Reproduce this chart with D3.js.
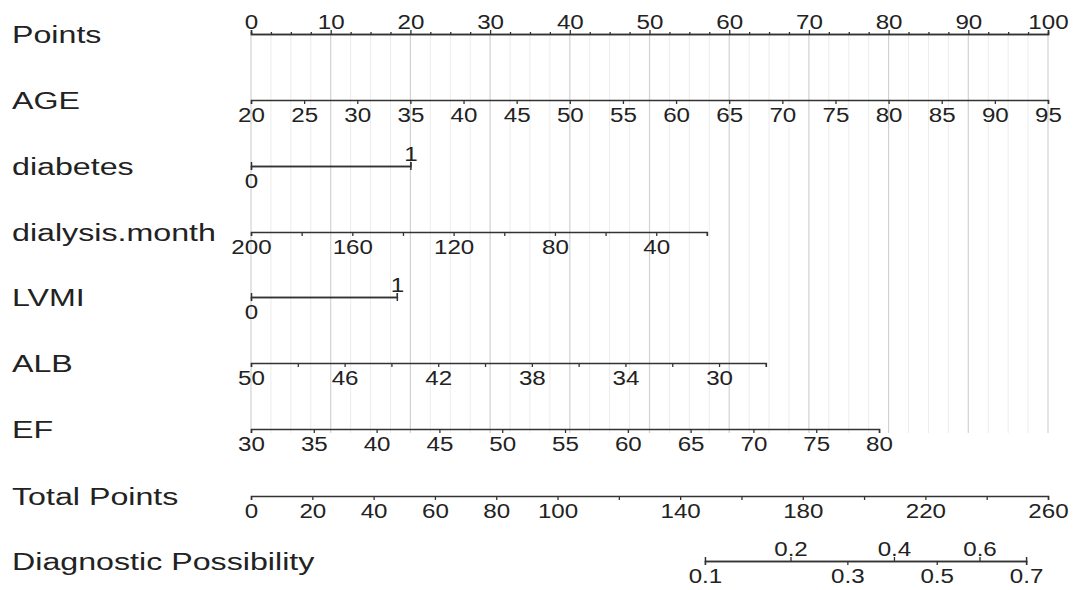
<!DOCTYPE html>
<html>
<head>
<meta charset="utf-8">
<script src="https://cdn.jsdelivr.net/npm/d3@7"></script>
<style>
  body { margin: 0; background: #fff; }
  svg { display: block; }
  text { font-family: "Liberation Sans", Arial, sans-serif; fill: #222; }
</style>
</head>
<body>
<svg id="chart" width="1076" height="590"></svg>
<script>
// row names as shown on the left
var rowNames = ["Points", "AGE", "diabetes", "dialysis.month", "LVMI", "ALB", "EF", "Total Points", "Diagnostic Possibility"];

// points axis
var pointsTicks = [0, 10, 20, 30, 40, 50, 60, 70, 80, 90, 100];
var pointsMinor = [2.5, 5, 7.5, 12.5, 15, 17.5, 22.5, 25, 27.5, 32.5, 35, 37.5, 42.5, 45, 47.5,
  52.5, 55, 57.5, 62.5, 65, 67.5, 72.5, 75, 77.5, 82.5, 85, 87.5, 92.5, 95, 97.5];

// predictors: value range and the points at each end
var ageRange = [20, 95], agePoints = [0, 100];
var ageTicks = [20, 25, 30, 35, 40, 45, 50, 55, 60, 65, 70, 75, 80, 85, 90, 95];

var diabetesLevels = [0, 1], diabetesPoints = [0, 20];

var dialysisRange = [200, 20], dialysisPoints = [0, 57.2];
var dialysisTicks = [200, 180, 160, 140, 120, 100, 80, 60, 40, 20];
var dialysisLabels = [200, 160, 120, 80, 40];

var lvmiLevels = [0, 1], lvmiPoints = [0, 18.3];

var albRange = [50, 28], albPoints = [0, 64.6];
var albTicks = [50, 48, 46, 44, 42, 40, 38, 36, 34, 32, 30, 28];
var albLabels = [50, 46, 42, 38, 34, 30];

var efRange = [30, 80], efPoints = [0, 78.8];
var efTicks = [30, 35, 40, 45, 50, 55, 60, 65, 70, 75, 80];

// total points
var totalRange = [0, 260];
var totalTicks = [0, 20, 40, 60, 80, 100, 120, 140, 160, 180, 200, 220, 240, 260];
var totalLabels = [0, 20, 40, 60, 80, 100, 140, 180, 220, 260];

// diagnostic possibility (logistic link)
var probTicksTop = [0.2, 0.4, 0.6];
var probTicksBottom = [0.1, 0.3, 0.5, 0.7];
var lpIntercept = 223.7;   // total points where probability = 0.5
var lpSlope = 0.02906;     // logit per total point

var svg = d3.select("#chart");
var rowY = [34, 100, 166, 232, 297, 363, 429, 496, 561];

var x = d3.scaleLinear().domain([0, 100]).range([251, 1048]);
var xTotal = d3.scaleLinear().domain(totalRange).range([251, 1048]);

function predictorScale(range, pts) {
  return d3.scaleLinear().domain(range).range([x(pts[0]), x(pts[1])]);
}

var tickFont = 21, tickStretch = 1.15;
var lineColor = "#333";

// grid lines
var grid = svg.append("g");
grid.selectAll("line.minor")
  .data(pointsMinor)
  .enter().append("line")
  .attr("class", "minor")
  .attr("x1", d => x(d)).attr("x2", d => x(d))
  .attr("y1", rowY[0]).attr("y2", 433)
  .style("stroke", "#ececec").style("stroke-width", 1);
grid.selectAll("line.major")
  .data(pointsTicks)
  .enter().append("line")
  .attr("class", "major")
  .attr("x1", d => x(d)).attr("x2", d => x(d))
  .attr("y1", rowY[0]).attr("y2", 433)
  .style("stroke", "#d2d2d2").style("stroke-width", 1.2);

// row names
svg.append("g").selectAll("text")
  .data(rowNames)
  .enter().append("text")
  .attr("transform", (d, i) => "translate(12," + (rowY[i] + 9) + ") scale(1.4,1)")
  .style("font-size", "23px")
  .text(d => d);

function styleAxis(g, below) {
  g.select(".domain").style("stroke", lineColor).style("stroke-width", 1.5);
  g.selectAll(".tick line").style("stroke", lineColor).style("stroke-width", 1.3);
  g.selectAll(".tick text")
    .attr("y", below ? 22 : -5)
    .attr("dy", null)
    .attr("transform", "scale(" + tickStretch + ",1)")
    .style("font-size", tickFont + "px")
    .style("font-family", "'Liberation Sans', Arial, sans-serif")
    .style("fill", "#222");
  g.attr("font-size", null).attr("font-family", null);
}

function drawAxis(i, scale, ticks, labels, below, size) {
  var ax = (below ? d3.axisBottom(scale) : d3.axisTop(scale))
    .tickValues(ticks)
    .tickSizeOuter(0)
    .tickSize(size || 4)
    .tickFormat(d => (labels == null || labels.indexOf(d) >= 0) ? d3.format("")(d) : "");
  var g = svg.append("g")
    .attr("transform", "translate(0," + rowY[i] + ")")
    .call(ax);
  styleAxis(g, below);
  return g;
}

// Points
drawAxis(0, x, pointsMinor, [], false, 2);
drawAxis(0, x, pointsTicks, null, false, 4);

// AGE
drawAxis(1, predictorScale(ageRange, agePoints), ageTicks, null, true);

// diabetes (0 below, 1 above)
var diabetesScale = predictorScale(diabetesLevels, diabetesPoints);
drawAxis(2, diabetesScale, [0], null, true);
drawAxis(2, diabetesScale, [1], null, false);

// dialysis.month
drawAxis(3, predictorScale(dialysisRange, dialysisPoints), dialysisTicks, dialysisLabels, true);

// LVMI
var lvmiScale = predictorScale(lvmiLevels, lvmiPoints);
drawAxis(4, lvmiScale, [0], null, true);
drawAxis(4, lvmiScale, [1], null, false);

// ALB
drawAxis(5, predictorScale(albRange, albPoints), albTicks, albLabels, true);

// EF
drawAxis(6, predictorScale(efRange, efPoints), efTicks, null, true);

// Total Points
drawAxis(7, xTotal, totalTicks, totalLabels, true);

// Diagnostic Possibility: piecewise scale through the logit positions
var probAll = probTicksBottom.concat(probTicksTop).sort(d3.ascending);
var probPos = probAll.map(p => xTotal(lpIntercept + Math.log(p / (1 - p)) / lpSlope));
var probScale = d3.scaleLinear().domain(probAll).range(probPos);
drawAxis(8, probScale, probTicksTop, null, false);
drawAxis(8, probScale, probTicksBottom, null, true);
</script>
</body>
</html>
